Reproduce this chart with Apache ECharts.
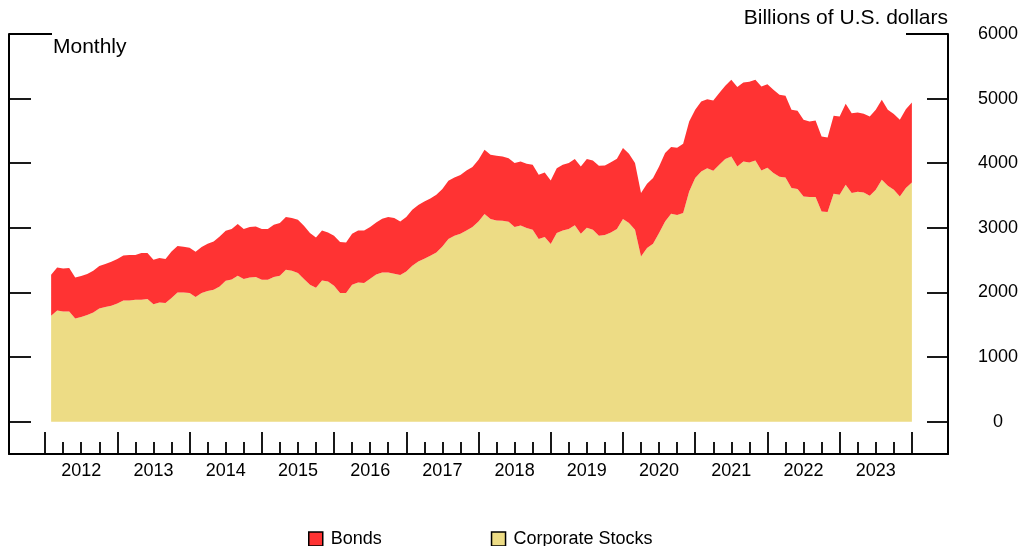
<!DOCTYPE html>
<html>
<head>
<meta charset="utf-8">
<script src="https://cdn.jsdelivr.net/npm/echarts@6/dist/echarts.min.js"></script>
<style>html,body{margin:0;padding:0;background:#fff}#c{width:1027px;height:546px}</style>
</head>
<body>
<div id="c"></div>
<script>
// Monthly observations, Jan 2012 .. Dec 2023 (billions of U.S. dollars)
var years = [2012, 2013, 2014, 2015, 2016, 2017, 2018, 2019, 2020, 2021, 2022, 2023];
var stocks = [
  1640, 1722, 1706, 1706, 1598, 1620, 1651, 1691, 1753, 1774, 1795, 1830,
  1877, 1877, 1887, 1887, 1898, 1818, 1846, 1836, 1913, 2000, 2000, 1990,
  1929, 1990, 2022, 2042, 2093, 2181, 2201, 2258, 2207, 2232, 2238, 2197,
  2197, 2238, 2258, 2351, 2336, 2300, 2207, 2119, 2073, 2186, 2170, 2104,
  1990, 1990, 2119, 2155, 2145, 2212, 2279, 2310, 2310, 2290, 2269, 2325,
  2413, 2480, 2522, 2568, 2619, 2712, 2826, 2877, 2908, 2960, 3012, 3099,
  3213, 3136, 3115, 3110, 3094, 3012, 3038, 2997, 2970, 2826, 2857, 2749,
  2919, 2960, 2981, 3040, 2908, 3001, 2970, 2877, 2888, 2929, 2981, 3136,
  3074, 2970, 2557, 2687, 2754, 2919, 3099, 3218, 3198, 3229, 3563, 3770,
  3873, 3924, 3883, 3976, 4064, 4104, 3950, 4027, 4012, 4043, 3888, 3930,
  3847, 3790, 3780, 3615, 3600, 3486, 3476, 3476, 3254, 3244, 3527, 3512,
  3667, 3538, 3558, 3548, 3496, 3589, 3744, 3651, 3589, 3486, 3615, 3702
];
var bonds = [
  634, 665, 666, 672, 635, 634, 634, 645, 656, 666, 680, 687,
  696, 702, 692, 723, 712, 688, 686, 681, 722, 718, 707, 702,
  701, 713, 732, 748, 774, 774, 780, 800, 774, 780, 784, 784,
  784, 810, 816, 816, 815, 825, 825, 800, 778, 774, 759, 773,
  790, 784, 789, 805, 815, 800, 805, 831, 857, 861, 830, 842,
  867, 872, 886, 887, 893, 888, 902, 903, 908, 928, 928, 954,
  995, 994, 1000, 994, 985, 990, 989, 994, 1006, 995, 1000, 984,
  1005, 1016, 1021, 1024, 1042, 1063, 1073, 1083, 1078, 1088, 1088, 1098,
  1072, 1032, 981, 995, 1016, 1031, 1058, 1032, 1041, 1071, 1083, 1057,
  1082, 1068, 1088, 1109, 1134, 1187, 1228, 1223, 1248, 1248, 1300, 1294,
  1289, 1268, 1263, 1212, 1211, 1186, 1170, 1185, 1160, 1154, 1207, 1211,
  1252, 1237, 1227, 1217, 1227, 1238, 1237, 1176, 1171, 1186, 1222, 1238
];
var yTicks = [0, 1000, 2000, 3000, 4000, 5000, 6000];
var seriesNames = ['Bonds', 'Corporate Stocks'];

// x axis unit: months since start of 2012; observations plotted at month end
var firstYear = years[0];
function monthEnd(i) { return i + 1; }
var majorTicks = [], minorTicks = [], yearLabelPos = [];
for (var k = 0; k <= years.length; k++) majorTicks.push(k * 12);
for (var k2 = 0; k2 < years.length; k2++) {
  minorTicks.push(k2 * 12 + 3, k2 * 12 + 6, k2 * 12 + 9);
  yearLabelPos.push(k2 * 12 + 6);
}
// value first so that stacking applies to the y dimension
var stockData = stocks.map(function (v, i) { return [v, monthEnd(i)]; });
var bondData = bonds.map(function (v, i) { return [v, monthEnd(i)]; });

var FONT = "'Liberation Sans', Arial, Helvetica, sans-serif";
var chart = echarts.init(document.getElementById('c'), null, {renderer: 'canvas'});
var axisLineStyle = {color: '#000', width: 2};
var tickStyle = {color: '#000', width: 1.8};
chart.setOption({
  animation: false,
  backgroundColor: '#fff',
  grid: {left: 9, right: 79, top: 34, bottom: 92, containLabel: false},
  legend: {
    data: seriesNames,
    left: 308, top: 530, padding: 0,
    itemWidth: 14, itemHeight: 14, itemGap: 109,
    icon: 'rect',
    itemStyle: {borderColor: '#000', borderWidth: 1.5},
    textStyle: {fontFamily: FONT, fontSize: 18, color: '#000', padding: [0, 0, 0, 3]},
    selectedMode: false
  },
  xAxis: [{
    type: 'value', min: -6, max: 150, position: 'bottom',
    axisLine: {show: true, onZero: false, lineStyle: axisLineStyle},
    axisTick: {show: true, inside: true, length: 22, customValues: majorTicks, lineStyle: tickStyle},
    axisLabel: {show: true, customValues: yearLabelPos, margin: 8,
      fontFamily: FONT, fontSize: 18, color: '#000',
      formatter: function (v) { return String(firstYear + Math.round((v - 6) / 12)); }},
    splitLine: {show: false}
  }, {
    type: 'value', min: -6, max: 150, position: 'bottom',
    axisLine: {show: false, onZero: false},
    axisTick: {show: true, inside: true, length: 12, customValues: minorTicks, lineStyle: tickStyle},
    axisLabel: {show: false},
    splitLine: {show: false}
  }],
  yAxis: [{
    type: 'value', min: -500, max: 6000, position: 'left',
    axisLine: {show: true, onZero: false, lineStyle: axisLineStyle},
    axisTick: {show: true, inside: true, length: 22, customValues: yTicks, lineStyle: tickStyle},
    axisLabel: {show: false},
    splitLine: {show: false}
  }, {
    type: 'value', min: -500, max: 6000, position: 'right',
    axisLine: {show: true, onZero: false, lineStyle: axisLineStyle},
    axisTick: {show: true, inside: true, length: 21, customValues: yTicks, lineStyle: tickStyle},
    axisLabel: {show: true, customValues: yTicks, align: 'center', margin: 50,
      fontFamily: FONT, fontSize: 18, color: '#000',
      formatter: function (v) { return String(v); }},
    splitLine: {show: false}
  }],
  series: [{
    name: 'Corporate Stocks', type: 'line', stack: 'total',
    xAxisIndex: 0, yAxisIndex: 0,
    encode: {x: 1, y: 0},
    data: stockData, showSymbol: false, symbol: 'none',
    lineStyle: {width: 0}, itemStyle: {color: '#EDDC85'},
    areaStyle: {color: '#EDDC85', opacity: 1}
  }, {
    name: 'Bonds', type: 'line', stack: 'total',
    xAxisIndex: 0, yAxisIndex: 0,
    encode: {x: 1, y: 0},
    data: bondData, showSymbol: false, symbol: 'none',
    lineStyle: {width: 0}, itemStyle: {color: '#FF3333'},
    areaStyle: {color: '#FF3333', opacity: 1}
  }],
  graphic: [
    {type: 'line', shape: {x1: 9, y1: 34, x2: 52, y2: 34}, style: {stroke: '#000', lineWidth: 2}},
    {type: 'line', shape: {x1: 906, y1: 34, x2: 948, y2: 34}, style: {stroke: '#000', lineWidth: 2}},
    {type: 'text', left: 53, top: 37, style: {text: 'Monthly', fontFamily: FONT, fontSize: 21, fill: '#000'}},
    {type: 'text', right: 79, top: 8, style: {text: 'Billions of U.S. dollars', fontFamily: FONT, fontSize: 21, fill: '#000'}}
  ]
});
</script>
</body>
</html>
